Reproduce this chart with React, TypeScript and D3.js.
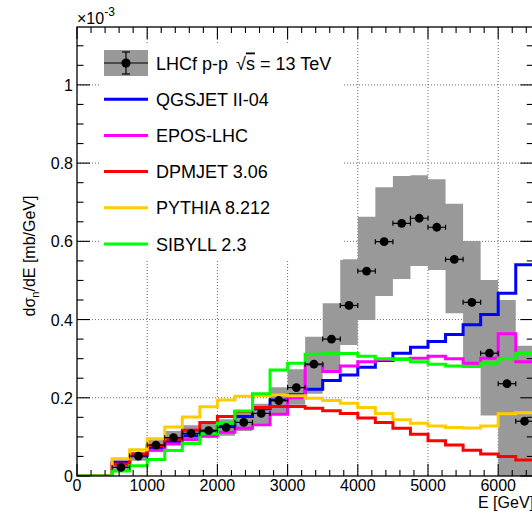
import React from 'react';
import * as d3 from 'd3';

// ---- data (values in units of 1e-3 mb/GeV) ----
const binLow = [500, 750, 1000, 1250, 1500, 1750, 2000, 2250, 2500, 2750, 3000, 3250, 3500, 3750, 4000, 4250, 4500, 4750, 5000, 5250, 5500, 5750, 6000, 6250];
const binWidth = 250;
const lhcf = [0.022, 0.051, 0.079, 0.098, 0.109, 0.116, 0.124, 0.137, 0.160, 0.193, 0.226, 0.286, 0.350, 0.436, 0.524, 0.599, 0.646, 0.659, 0.636, 0.554, 0.444, 0.314, 0.236, 0.140];
const lhcfSysLo = [0.012, 0.039, 0.062, 0.080, 0.090, 0.097, 0.103, 0.115, 0.135, 0.156, 0.182, 0.210, 0.267, 0.335, 0.399, 0.460, 0.504, 0.537, 0.527, 0.416, 0.280, 0.155, 0, 0];
const lhcfSysHi = [0.034, 0.062, 0.094, 0.115, 0.130, 0.136, 0.145, 0.163, 0.185, 0.227, 0.273, 0.356, 0.442, 0.554, 0.663, 0.738, 0.767, 0.769, 0.759, 0.696, 0.601, 0.501, 0.450, 0.333];
const qgsjet = [0.036, 0.052, 0.070, 0.088, 0.103, 0.115, 0.127, 0.152, 0.172, 0.194, 0.208, 0.222, 0.244, 0.258, 0.278, 0.295, 0.314, 0.329, 0.344, 0.362, 0.387, 0.413, 0.467, 0.540];
const epos = [0.028, 0.054, 0.066, 0.082, 0.093, 0.102, 0.112, 0.122, 0.131, 0.158, 0.200, 0.285, 0.267, 0.281, 0.292, 0.297, 0.299, 0.301, 0.306, 0.300, 0.288, 0.301, 0.364, 0.292];
const dpmjet = [0.031, 0.056, 0.078, 0.094, 0.117, 0.137, 0.152, 0.165, 0.175, 0.178, 0.178, 0.173, 0.167, 0.160, 0.148, 0.137, 0.122, 0.107, 0.090, 0.079, 0.066, 0.056, 0.050, 0.041];
const pythia = [0.044, 0.067, 0.095, 0.125, 0.151, 0.177, 0.194, 0.204, 0.206, 0.207, 0.205, 0.199, 0.193, 0.186, 0.175, 0.160, 0.144, 0.135, 0.128, 0.124, 0.123, 0.128, 0.159, 0.162];
const sibyll = [0.013, 0.026, 0.042, 0.065, 0.083, 0.108, 0.135, 0.166, 0.210, 0.271, 0.288, 0.311, 0.314, 0.313, 0.306, 0.300, 0.298, 0.292, 0.286, 0.281, 0.280, 0.288, 0.300, 0.314];

const xTicks = [0, 1000, 2000, 3000, 4000, 5000, 6000];
const yTicks = [0, 0.2, 0.4, 0.6, 0.8, 1];
const yTickLabels = ['0', '0.2', '0.4', '0.6', '0.8', '1'];

const modelNames = ['QGSJET II-04', 'EPOS-LHC', 'DPMJET 3.06', 'PYTHIA 8.212', 'SIBYLL 2.3'];
const modelColors = ['#0000ff', '#ff00ff', '#ff0000', '#ffcc00', '#00ff00'];
const modelValues = [qgsjet, epos, dpmjet, pythia, sibyll];

const FONT = '"Liberation Sans", Arial, Helvetica, sans-serif';

export default function App() {
  const W = 532, H = 511;
  const L = 77, R = 533.3, T = 27, B = 476;
  const x = d3.scaleLinear().domain([0, 6500]).range([L, R]);
  const y = d3.scaleLinear().domain([0, 1.148]).range([B, T]);

  const xMinor = d3.range(0, 6500, 200);
  const yMinor = d3.range(0, 1.15, 0.05);

  type P = { e: number; v: number };
  const histPts = (vals: number[]): P[] => {
    const pts: P[] = [{ e: 0, v: 0 }];
    binLow.forEach((e, i) => pts.push({ e, v: vals[i] }));
    pts.push({ e: binLow[binLow.length - 1] + binWidth, v: vals[vals.length - 1] });
    return pts;
  };
  const line = d3.line<P>().x(d => x(d.e)).y(d => y(d.v)).curve(d3.curveStepAfter);

  type Q = { e: number; lo: number; hi: number };
  const bandPts: Q[] = binLow.map((e, i) => ({ e, lo: lhcfSysLo[i], hi: lhcfSysHi[i] }));
  bandPts.push({ e: binLow[binLow.length - 1] + binWidth, lo: lhcfSysLo[lhcfSysLo.length - 1], hi: lhcfSysHi[lhcfSysHi.length - 1] });
  const area = d3.area<Q>().x(d => x(d.e)).y0(d => y(d.lo)).y1(d => y(d.hi)).curve(d3.curveStepAfter);

  const legTop = 63, legStep = 36.2;
  const legX0 = 104, legX1 = 148, legTextX = 156;

  return (
    <svg width={W} height={H} style={{ position: 'absolute', left: 0, top: 0, background: '#fff' }} fontFamily={FONT}>
      <defs>
        <clipPath id="plot"><rect x={L} y={T} width={R - L} height={B - T} /></clipPath>
      </defs>
      <rect x={0} y={0} width={W} height={H} fill="#fff" />
      {/* grid */}
      <g stroke="#444" strokeWidth={0.8} strokeDasharray="1 2">
        {xTicks.filter(t => t > 0).map(t => <line key={'gx' + t} x1={x(t)} x2={x(t)} y1={T} y2={B} />)}
        {yTicks.filter(t => t > 0).map(t => <line key={'gy' + t} x1={L} x2={R} y1={y(t)} y2={y(t)} />)}
      </g>
      <g clipPath="url(#plot)">
        <path d={area(bandPts) || ''} fill="#999999" stroke="none" />
        {modelValues.map((vals, i) => (
          <path key={modelNames[i]} d={line(histPts(vals)) || ''} fill="none" stroke={modelColors[i]} strokeWidth={3} />
        ))}
        {lhcf.map((v, i) => {
          const cx = x(binLow[i] + binWidth / 2);
          const cy = y(v);
          const x1 = x(binLow[i]), x2 = x(binLow[i] + binWidth);
          return (
            <g key={'d' + i}>
              <line x1={x1} x2={x2} y1={cy} y2={cy} stroke="#000" strokeWidth={1.2} />
              <line x1={x1} x2={x1} y1={cy - 2.5} y2={cy + 2.5} stroke="#000" strokeWidth={1.2} />
              <line x1={x2} x2={x2} y1={cy - 2.5} y2={cy + 2.5} stroke="#000" strokeWidth={1.2} />
              <circle cx={cx} cy={cy} r={4.4} fill="#000" />
            </g>
          );
        })}
      </g>
      {/* legend */}
      <rect x={100} y={45} width={243} height={215} fill="#fff" />
      <g>
        <rect x={legX0} y={legTop - 13} width={legX1 - legX0} height={26} fill="#999999" />
        <line x1={legX0} x2={legX1} y1={legTop} y2={legTop} stroke="#000" strokeWidth={1.2} />
        <line x1={126} x2={126} y1={legTop - 11} y2={legTop + 11} stroke="#000" strokeWidth={1.2} />
        <line x1={122} x2={130} y1={legTop - 11} y2={legTop - 11} stroke="#000" strokeWidth={1.2} />
        <line x1={122} x2={130} y1={legTop + 11} y2={legTop + 11} stroke="#000" strokeWidth={1.2} />
        <circle cx={126} cy={legTop} r={4.6} fill="#000" />
        <text x={legTextX} y={legTop + 6.5} fontSize={18} fill="#000">LHCf p-p <tspan dx={3}>√</tspan><tspan textDecoration="overline">s</tspan> = 13 TeV</text>
        {modelNames.map((n, i) => {
          const cy = legTop + legStep * (i + 1);
          return (
            <g key={'l' + n}>
              <line x1={legX0} x2={legX1} y1={cy} y2={cy} stroke={modelColors[i]} strokeWidth={3} />
              <text x={legTextX} y={cy + 6.5} fontSize={18} fill="#000">{n}</text>
            </g>
          );
        })}
      </g>
      {/* frame */}
      <rect x={L} y={T} width={R - L} height={B - T} fill="none" stroke="#000" strokeWidth={1.3} />
      {/* ticks */}
      <g stroke="#000" strokeWidth={1.1}>
        {xMinor.map(t => {
          const major = t % 1000 === 0;
          const len = major ? 12 : 6;
          return (
            <g key={'tx' + t}>
              <line x1={x(t)} x2={x(t)} y1={B} y2={B - len} />
              <line x1={x(t)} x2={x(t)} y1={T} y2={T + len} />
            </g>
          );
        })}
        {yMinor.map((t, i) => {
          const major = i % 4 === 0;
          const len = major ? 13 : 6.5;
          return (
            <g key={'ty' + i}>
              <line x1={L} x2={L + len} y1={y(t)} y2={y(t)} />
              <line x1={R} x2={R - len} y1={y(t)} y2={y(t)} />
            </g>
          );
        })}
      </g>
      {/* tick labels */}
      <g fontSize={16} fill="#000">
        {xTicks.map(t => (
          <text key={'lx' + t} x={x(t)} y={491} textAnchor="middle">{t}</text>
        ))}
        {yTicks.map((t, i) => (
          <text key={'ly' + t} x={73} y={y(t) + 6} textAnchor="end">{yTickLabels[i]}</text>
        ))}
      </g>
      <text x={77} y={24} fontSize={16} fill="#000">×10<tspan dy={-8} fontSize={12}>-3</tspan></text>
      <text x={534} y={508} fontSize={16} textAnchor="end" fill="#000">E [GeV]</text>
      <text transform="translate(35,256) rotate(-90)" fontSize={16} textAnchor="middle" fill="#000">
        dσ<tspan dy={4} fontSize={11}>n</tspan><tspan dy={-4}>/dE [mb/GeV]</tspan>
      </text>
    </svg>
  );
}
